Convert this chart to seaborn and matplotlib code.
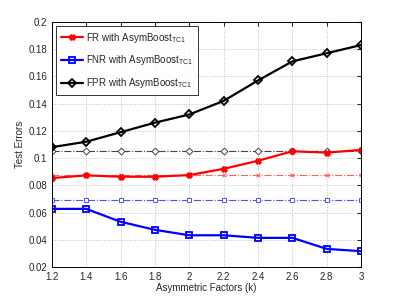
import matplotlib
matplotlib.use("Agg")
import matplotlib.pyplot as plt
import pandas as pd
import seaborn as sns

# Daten
k_values = [1.2, 1.4, 1.6, 1.8, 2.0, 2.2, 2.4, 2.6, 2.8, 3.0]
fr_asym = [0.0853, 0.0873, 0.0863, 0.0863, 0.0875, 0.0921, 0.098, 0.105, 0.104, 0.106]
fnr_asym = [0.0627, 0.0627, 0.0532, 0.0473, 0.0433, 0.0433, 0.0414, 0.0414, 0.0333, 0.0316]
fpr_asym = [0.108, 0.112, 0.119, 0.126, 0.132, 0.142, 0.157, 0.171, 0.177, 0.183]
fr_base = [0.0873] * len(k_values)
fnr_base = [0.0689] * len(k_values)
fpr_base = [0.1055] * len(k_values)

y_ticks = [0.02, 0.04, 0.06, 0.08, 0.1, 0.12, 0.14, 0.16, 0.18, 0.2]
y_tick_labels = ["0.02", "0.04", "0.06", "0.08", "0.1", "0.12", "0.14", "0.16", "0.18", "0.2"]
x_tick_labels = ["1.2", "1.4", "1.6", "1.8", "2", "2.2", "2.4", "2.6", "2.8", "3"]

sns.set_style("white")
plt.rcParams['font.family'] = ['Liberation Sans', 'DejaVu Sans']
plt.rcParams['mathtext.fontset'] = 'custom'
plt.rcParams['mathtext.rm'] = 'Liberation Sans'

fig = plt.figure(figsize=(3.99, 3.0), dpi=100)
ax = fig.add_axes([0.130, 0.11, 0.775, 0.817])

df = pd.DataFrame({"k": k_values, "fr": fr_asym, "fnr": fnr_asym, "fpr": fpr_asym,
                   "fr_b": fr_base, "fnr_b": fnr_base, "fpr_b": fpr_base})

# Grundlinien (gestrichelt-gepunktet, offene Marker)
sns.lineplot(data=df, x="k", y="fpr_b", ax=ax, color="#444444", linestyle="-.", lw=0.8,
             marker="D", markersize=3.5, markerfacecolor="white", markeredgecolor="#444444",
             markeredgewidth=0.7)
sns.lineplot(data=df, x="k", y="fr_b", ax=ax, color="#ff6060", linestyle="-.", lw=0.8,
             marker="x", markersize=3.5, markeredgecolor="#ff6060", markeredgewidth=0.7)
sns.lineplot(data=df, x="k", y="fnr_b", ax=ax, color="#5050ff", linestyle="-.", lw=0.8,
             marker="s", markersize=3.5, markerfacecolor="white", markeredgecolor="#5050ff",
             markeredgewidth=0.7)

# Hauptkurven
sns.lineplot(data=df, x="k", y="fr", ax=ax, color="red", lw=1.6, marker="X", markersize=4,
             markeredgecolor="red", label=r"FR with AsymBoost$_{\mathrm{TC1}}$")
sns.lineplot(data=df, x="k", y="fnr", ax=ax, color="blue", lw=1.6, marker="s", markersize=4,
             markerfacecolor="none", markeredgecolor="blue", markeredgewidth=1.3,
             label=r"FNR with AsymBoost$_{\mathrm{TC1}}$")
sns.lineplot(data=df, x="k", y="fpr", ax=ax, color="black", lw=1.6, marker="D", markersize=4,
             markerfacecolor="none", markeredgecolor="black", markeredgewidth=1.3,
             label=r"FPR with AsymBoost$_{\mathrm{TC1}}$")

ax.set_xlim(1.2, 3.0)
ax.set_ylim(0.02, 0.2)
ax.set_xticks(k_values)
ax.set_xticklabels(x_tick_labels)
ax.set_yticks(y_ticks)
ax.set_yticklabels(y_tick_labels)
ax.tick_params(direction="in", labelsize=7, length=3, top=True, right=True)
ax.grid(True, linestyle=":", color="#c0c0c0", lw=0.7)
for sp in ax.spines.values():
    sp.set_color("black")
    sp.set_linewidth(0.7)

ax.set_xlabel("Asymmetric Factors (k)", fontsize=7, labelpad=1)
ax.set_ylabel("Test Errors", fontsize=7, labelpad=2)

leg = ax.legend(loc="upper left", fontsize=7, frameon=True, fancybox=False,
                edgecolor="black", borderaxespad=0.4, handlelength=2.3, handletextpad=0.3,
                labelspacing=0.9, borderpad=0.5)
leg.get_frame().set_linewidth(0.7)

fig.savefig("out.png", dpi=100)
